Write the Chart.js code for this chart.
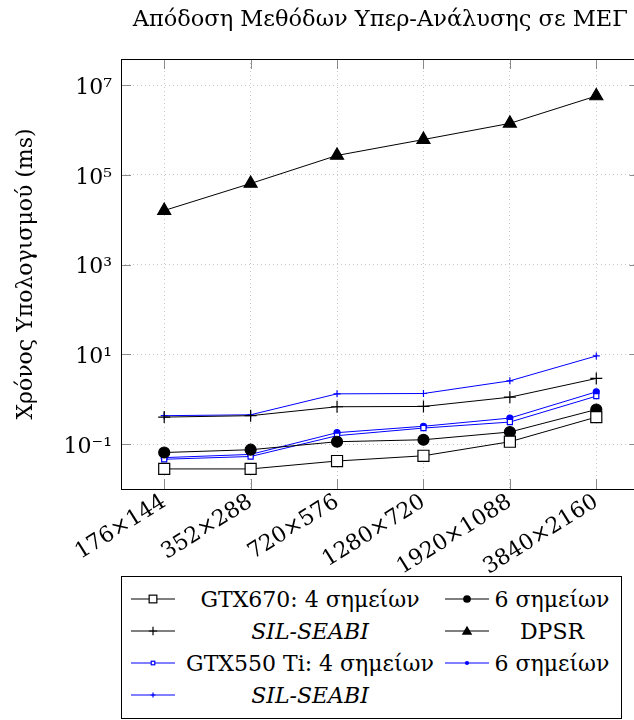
<!DOCTYPE html>
<html>
<head>
<meta charset="utf-8">
<script src="https://cdn.jsdelivr.net/npm/chart.js@4.4.0/dist/chart.umd.min.js"></script>
<style>
  html, body { margin: 0; padding: 0; background: #fff; }
  #wrap { position: relative; width: 634px; height: 720px; overflow: hidden; }
  #chart { position: absolute; left: 0; top: 0; }
  #legend {
    position: absolute; left: 121px; top: 576px; width: 501px; height: 143px;
    border: 1px solid #000; box-sizing: border-box; padding-top: 6px; background: #fff;
    font-family: 'DejaVu Serif', serif; font-size: 22px; color: #000;
  }
  .row { display: flex; align-items: center; height: 32px; padding-left: 9px; }
  .txt1 { width: 270px; text-align: center; white-space: nowrap; }
  .txt2 { width: 118px; margin-left: 4px; text-align: center; white-space: nowrap; }
</style>
</head>
<body>
<div id="wrap">
  <canvas id="chart" width="660" height="580"></canvas>
  <div id="legend"></div>
</div>
<script>
// data (ms, log scale)
const resolutions = ['176×144', '352×288', '720×576', '1280×720', '1920×1088', '3840×2160'];
const gtx670_4 = [0.028, 0.028, 0.042, 0.055, 0.113, 0.40];
const gtx670_6 = [0.065, 0.075, 0.113, 0.125, 0.186, 0.59];
const gtx670_sil = [0.40, 0.43, 0.68, 0.69, 1.11, 2.9];
const dpsr = [1.6e4, 6.4e4, 2.7e5, 6.1e5, 1.4e6, 5.7e6];
const gtx550_4 = [0.046, 0.053, 0.154, 0.228, 0.31, 1.17];
const gtx550_6 = [0.050, 0.059, 0.18, 0.25, 0.38, 1.46];
const gtx550_sil = [0.43, 0.45, 1.32, 1.34, 2.57, 9.2];

const yTicks = [0.1, 10, 1e3, 1e5, 1e7];
const yTickLabels = ['10⁻¹', '10¹', '10³', '10⁵', '10⁷'];

const titleText = 'Απόδοση Μεθόδων Υπερ-Ανάλυσης σε ΜΕΓ';
const yTitle = 'Χρόνος Υπολογισμού (ms)';

const serif = "'DejaVu Serif', serif";
Chart.defaults.font.family = serif;
Chart.defaults.font.size = 22;
Chart.defaults.color = '#000';

function ds(label, data, color, style, r, fill) {
  return {
    label: label,
    data: data,
    borderColor: color,
    backgroundColor: fill,
    borderWidth: 1,
    pointStyle: style,
    pointRadius: r,
    pointHoverRadius: r,
    pointBorderColor: color,
    pointBackgroundColor: fill,
    pointBorderWidth: 1.2,
    tension: 0
  };
}

const datasets = [
  ds('GTX670: 4 σημείων', gtx670_4, '#000', 'rect', 7.8, '#fff'),
  ds('6 σημείων', gtx670_6, '#000', 'circle', 5.5, '#000'),
  ds('SIL-SEABI', gtx670_sil, '#000', 'cross', 6, '#000'),
  ds('DPSR', dpsr, '#000', 'triangle', 7.5, '#000'),
  ds('GTX550 Ti: 4 σημείων', gtx550_4, '#0000ff', 'rect', 3.6, '#fff'),
  ds('6 σημείων', gtx550_6, '#0000ff', 'circle', 3, '#0000ff'),
  ds('SIL-SEABI', gtx550_sil, '#0000ff', 'cross', 3.5, '#0000ff')
];

const frame = {
  id: 'frame',
  afterDraw(chart) {
    const { ctx, chartArea: a, scales } = chart;
    ctx.save();
    // inward tick marks
    ctx.strokeStyle = '#8a8a8a';
    ctx.lineWidth = 1;
    ctx.beginPath();
    scales.y.ticks.forEach(t => {
      const y = Math.round(scales.y.getPixelForValue(t.value)) + 0.5;
      ctx.moveTo(a.left, y); ctx.lineTo(a.left + 10, y);
      ctx.moveTo(a.right, y); ctx.lineTo(a.right - 10, y);
    });
    scales.x.ticks.forEach((t, i) => {
      const x = Math.round(scales.x.getPixelForTick(i)) + 0.5;
      ctx.moveTo(x, a.bottom); ctx.lineTo(x, a.bottom - 10);
      ctx.moveTo(x, a.top); ctx.lineTo(x, a.top + 10);
    });
    ctx.stroke();
    // box
    ctx.strokeStyle = '#000';
    ctx.strokeRect(Math.round(a.left) + 0.5, Math.round(a.top) + 0.5,
      Math.round(a.right - a.left), Math.round(a.bottom - a.top));
    // title centred over the plot area
    ctx.fillStyle = '#000';
    ctx.font = '22.5px ' + serif;
    ctx.textAlign = 'center';
    ctx.textBaseline = 'alphabetic';
    ctx.fillText(titleText, (a.left + a.right) / 2, 26);
    ctx.restore();
  }
};

const chart = new Chart(document.getElementById('chart'), {
  type: 'line',
  data: { labels: resolutions, datasets: datasets },
  options: {
    responsive: false,
    animation: false,
    layout: { padding: { left: 0, top: 59, right: 20.5, bottom: 0 } },
    plugins: { legend: { display: false }, tooltip: { enabled: false } },
    scales: {
      x: {
        type: 'category',
        offset: true,
        grid: { color: '#c8c8c8', drawTicks: false },
        border: { display: false, dash: [1, 3] },
        ticks: { autoSkip: false, maxRotation: 32, minRotation: 32, padding: 0 },
        afterFit(s) { s.height = 91; }
      },
      y: {
        type: 'logarithmic',
        min: 0.01,
        max: Math.pow(10, 7.58),
        afterBuildTicks(s) { s.ticks = yTicks.map(v => ({ value: v })); },
        grid: { color: '#c8c8c8', drawTicks: false },
        border: { display: false, dash: [1, 3] },
        ticks: {
          padding: 9,
          labelOffset: 3,
          callback: (v) => yTickLabels[yTicks.indexOf(v)]
        },
        title: { display: true, text: yTitle, padding: { top: 13, bottom: 0 } },
        afterFit(s) { s.width = 121; }
      }
    }
  },
  plugins: [frame]
});

// legend: 2 columns, built from the datasets
function sample(d) {
  const c = d.borderColor, r = d.pointRadius * 0.7;
  let m = '';
  if (d.pointStyle === 'rect') {
    const s = r * 1.41;
    m = `<rect x="${22 - s / 2}" y="${11 - s / 2}" width="${s}" height="${s}" fill="#fff" stroke="${c}" stroke-width="1.2"/>`;
  } else if (d.pointStyle === 'circle') {
    m = `<circle cx="22" cy="11" r="${r}" fill="${c}"/>`;
  } else if (d.pointStyle === 'cross') {
    m = `<path d="M22 ${11 - r}V${11 + r}M${22 - r} 11H${22 + r}" stroke="${c}" stroke-width="1.2"/>`;
  } else if (d.pointStyle === 'triangle') {
    m = `<path d="M22 ${11 - r}L${22 + r} ${11 + r * 0.7}L${22 - r} ${11 + r * 0.7}Z" fill="${c}"/>`;
  }
  return `<svg width="44" height="22"><line x1="0" y1="11" x2="44" y2="11" stroke="${c}" stroke-width="1.2"/>${m}</svg>`;
}
function text(d, cls) {
  const it = d.label === 'SIL-SEABI' ? ' style="font-style:italic"' : '';
  return `<span class="${cls}"${it}>${d.label}</span>`;
}
let html = '';
for (let i = 0; i < datasets.length; i += 2) {
  html += '<div class="row">' + sample(datasets[i]) + text(datasets[i], 'txt1');
  if (datasets[i + 1]) html += sample(datasets[i + 1]) + text(datasets[i + 1], 'txt2');
  html += '</div>';
}
document.getElementById('legend').innerHTML = html;
</script>
</body>
</html>
